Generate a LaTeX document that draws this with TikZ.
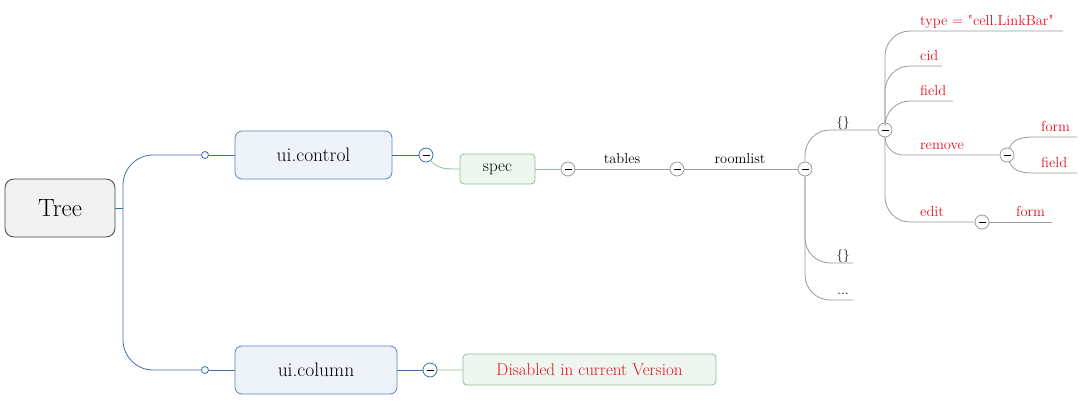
\documentclass[tikz,border=0pt]{standalone}
\usetikzlibrary{calc}
\definecolor{bluel}{HTML}{3F6DA8}
\definecolor{bluefill}{HTML}{EEF3FA}
\definecolor{blueborder}{HTML}{5A86BE}
\definecolor{greenl}{HTML}{8DBF98}
\definecolor{greenfill}{HTML}{EDF6EF}
\definecolor{grayl}{HTML}{9A9A9A}
\definecolor{redt}{HTML}{E8101E}
\tikzset{
 rootbox/.style={draw=black!75, fill=black!5, rounded corners=9pt, minimum width=110pt, minimum height=58pt, font=\fontsize{25}{28}\selectfont, text=black, line width=0.8pt},
 mainbox/.style={draw=blueborder, fill=bluefill, rounded corners=7pt, minimum height=48pt, font=\fontsize{19.5}{22}\selectfont, text=black, line width=0.8pt},
 subbox/.style={draw=greenl, fill=greenfill, rounded corners=4pt, minimum height=30pt, font=\fontsize{17}{20}\selectfont, line width=0.8pt},
 minus/.style={circle, draw=#1, fill=white, minimum size=14pt, inner sep=0pt, line width=0.8pt,
   path picture={\draw[black, line width=0.9pt] ([xshift=-3.5pt]path picture bounding box.center) -- ([xshift=3.5pt]path picture bounding box.center);}},
 dot/.style={circle, draw=bluel, fill=white, minimum size=7pt, inner sep=0pt, line width=0.8pt},
 lbl/.style={font=\fontsize{14.5}{16}\selectfont, inner sep=0pt, text=black},
 redlbl/.style={lbl, text=redt, anchor=base west},
 bl/.style={draw=bluel, line width=0.8pt},
 gl/.style={draw=grayl, line width=0.8pt},
 grl/.style={draw=greenl, line width=0.8pt},
}
\begin{document}
\begin{tikzpicture}[x=1pt,y=-1pt]
\useasboundingbox (0,0) rectangle (1089,404);
% main nodes
\node[rootbox] (tree) at (60,208) {Tree};
\node[mainbox, minimum width=157pt] (ctrl) at (313.5,155) {ui.control};
\node[mainbox, minimum width=162pt] (col) at (316,370) {ui.column};
\node[dot] (d1) at (205,155) {};
\node[dot] (d2) at (205,370) {};
\coordinate (trunk) at (123,208);
\draw[bl] (tree.east) -- (trunk);
\draw[bl, rounded corners=30pt] (trunk) |- (d1);
\draw[bl, rounded corners=30pt] (trunk) |- (d2);
\draw[bl] (d1) -- (ctrl);
\draw[bl] (d2) -- (col);
% ui.control branch
\node[minus=bluel] (m1) at (426,155) {};
\draw[bl] (ctrl) -- (m1);
\node[subbox, minimum width=75pt] (spec) at (497.5,169) {spec};
\draw[grl] (m1.-50) to[out=-50,in=180] (spec.west);
\node[minus=grayl] (m2) at (568,169) {};
\draw[grl] (spec) -- (m2);
\node[minus=grayl] (m3) at (677,169) {};
\draw[gl] (m2) -- (m3);
\node[lbl, anchor=base] (tables) at (622,163) {tables};
\node[minus=grayl] (m4) at (805,169) {};
\draw[gl] (m3) -- (m4);
\node[lbl, anchor=base] (roomlist) at (740,163) {roomlist};
% roomlist children
\node[minus=grayl] (m5) at (885,130) {};
\draw[gl, rounded corners=25pt] (m4) |- (m5);
\node[lbl, anchor=base, font=\fontsize{13}{14}\selectfont] (obj1) at (843,126) {\{\}};
\coordinate (e1) at (853,263);
\coordinate (e2) at (853,300);
\draw[gl, rounded corners=25pt] (m4) |- (e1);
\draw[gl, rounded corners=25pt] (m4) |- (e2);
\node[lbl, anchor=base, font=\fontsize{13}{14}\selectfont] (obj2) at (843,259) {\{\}};
\node[lbl, anchor=base] (dots) at (843,294) {...};
% {} children
\coordinate (t1) at (1063,31);
\coordinate (t2) at (942,66);
\coordinate (t3) at (953,101);
\draw[gl, rounded corners=25pt] (m5) |- (t1);
\draw[gl, rounded corners=25pt] (m5) |- (t2);
\draw[gl, rounded corners=25pt] (m5) |- (t3);
\node[redlbl] (type) at (920,26) {type = \textquotedbl cell.LinkBar\textquotedbl};
\node[redlbl] (cid) at (920,60) {cid};
\node[redlbl] (field1) at (920,95) {field};
\node[minus=grayl] (m6) at (1007,155) {};
\draw[gl, rounded corners=18pt] (m5) |- (m6);
\node[redlbl] (remove) at (920,149) {remove};
\node[minus=grayl] (m7) at (982,222) {};
\draw[gl, rounded corners=25pt] (m5) |- (m7);
\node[redlbl] (edit) at (920,216) {edit};
% remove children
\coordinate (r1) at (1077,137);
\coordinate (r2) at (1077,173);
\draw[gl] (m6.70) to[out=70,in=180] ($(r1)+(-42,0)$) -- (r1);
\draw[gl] (m6.-70) to[out=-70,in=180] ($(r2)+(-42,0)$) -- (r2);
\node[redlbl] (form1) at (1041,131) {form};
\node[redlbl] (field2) at (1041,167) {field};
% edit child
\coordinate (ed1) at (1052,222);
\draw[gl] (m7) -- (ed1);
\node[redlbl] (form2) at (1016,216) {form};
% ui.column branch
\node[minus=bluel] (m8) at (430,370) {};
\draw[bl] (col) -- (m8);
\node[subbox, minimum width=253pt, minimum height=31pt, text=redt] (dis) at (589.5,369.5) {Disabled in current Version};
\draw[grl] (m8) -- (dis);
\end{tikzpicture}
\end{document}
